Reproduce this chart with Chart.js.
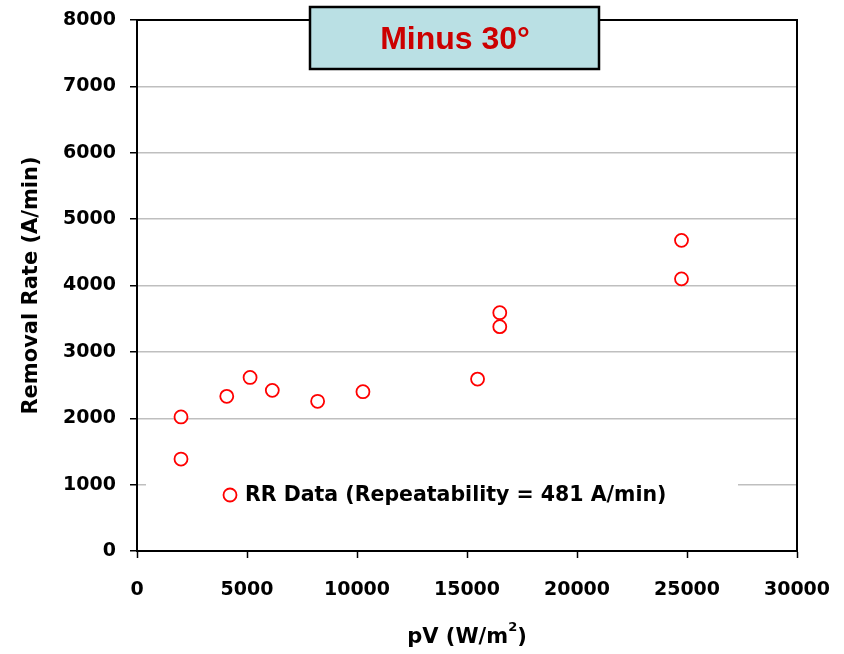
<!DOCTYPE html>
<html lang="en">
<head>
  <meta charset="UTF-8" />
  <title>Minus 30°</title>
  <script src="https://cdn.jsdelivr.net/npm/chart.js"></script>
  <style>
    html, body { margin: 0; padding: 0; background: #fff; }
    #wrap { width: 844px; height: 654px; position: relative; }
  </style>
</head>
<body>
  <div id="wrap">
    <canvas id="grafico"></canvas>
  </div>

  <script>
    // dados
    const pvValues = [2000, 2000, 4080, 5140, 6150, 8210, 10270, 15480, 16490, 16490, 24750, 24750];
    const rrValues = [2020, 1385, 2330, 2615, 2420, 2255, 2400, 2590, 3590, 3380, 4680, 4100];
    const xTicks = [0, 5000, 10000, 15000, 20000, 25000, 30000];
    const yTicks = [0, 1000, 2000, 3000, 4000, 5000, 6000, 7000, 8000];

    const tituloCaixa = 'Minus 30°';
    const legendaTexto = 'RR Data (Repeatability = 481 A/min)';

    const fonteEixo = 'DejaVu Sans';

    // caixa do titulo, legenda, borda e titulo do eixo x
    const extras = {
      id: 'extras',
      afterDraw(chart) {
        const ctx = chart.ctx;
        const area = chart.chartArea;
        ctx.save();

        // borda de cima e da direita
        ctx.strokeStyle = '#000';
        ctx.lineWidth = 2;
        ctx.beginPath();
        ctx.moveTo(area.left, area.top);
        ctx.lineTo(area.right, area.top);
        ctx.lineTo(area.right, area.bottom);
        ctx.stroke();

        // caixa do titulo
        ctx.fillStyle = '#bae0e4';
        ctx.fillRect(310, 7, 289, 62);
        ctx.lineWidth = 2.5;
        ctx.strokeStyle = '#000';
        ctx.strokeRect(310, 7, 289, 62);
        ctx.fillStyle = '#cc0000';
        ctx.font = 'bold 32px "Liberation Sans", Arial, sans-serif';
        ctx.textAlign = 'center';
        ctx.textBaseline = 'middle';
        ctx.fillText(tituloCaixa, 455, 40);

        // legenda
        ctx.fillStyle = '#fff';
        ctx.fillRect(146, 474, 592, 42);
        ctx.beginPath();
        ctx.arc(230, 495, 6.5, 0, Math.PI * 2);
        ctx.strokeStyle = '#ff0000';
        ctx.lineWidth = 1.8;
        ctx.stroke();
        ctx.fillStyle = '#000';
        ctx.font = 'bold 20.5px "' + fonteEixo + '", sans-serif';
        ctx.textAlign = 'left';
        ctx.fillText(legendaTexto, 245, 496);

        // titulo do eixo x com expoente
        const base = 'pV (W/m';
        const fimTxt = ')';
        ctx.font = 'bold 21px "' + fonteEixo + '", sans-serif';
        const w1 = ctx.measureText(base).width;
        const w3 = ctx.measureText(fimTxt).width;
        ctx.font = 'bold 13px "' + fonteEixo + '", sans-serif';
        const w2 = ctx.measureText('2').width;
        let x0 = (area.left + area.right) / 2 - (w1 + w2 + w3) / 2;
        ctx.textBaseline = 'alphabetic';
        ctx.font = 'bold 21px "' + fonteEixo + '", sans-serif';
        ctx.fillText(base, x0, 643);
        ctx.font = 'bold 13px "' + fonteEixo + '", sans-serif';
        ctx.fillText('2', x0 + w1, 631);
        ctx.font = 'bold 21px "' + fonteEixo + '", sans-serif';
        ctx.fillText(fimTxt, x0 + w1 + w2, 643);

        ctx.restore();
      }
    };

    const dados = {
      datasets: [{
        label: legendaTexto,
        data: pvValues.map((v, i) => ({ x: v, y: rrValues[i] })),
        pointStyle: 'circle',
        pointRadius: 6.5,
        pointHoverRadius: 6.5,
        borderWidth: 1.8,
        borderColor: '#ff0000',
        backgroundColor: '#ffffff'
      }]
    };

    const config = {
      type: 'scatter',
      data: dados,
      options: {
        responsive: false,
        animation: false,
        layout: { padding: { top: 20, right: 47, left: 0, bottom: 0 } },
        plugins: {
          legend: { display: false },
          tooltip: { enabled: false }
        },
        scales: {
          x: {
            min: 0,
            max: 30000,
            afterBuildTicks: s => { s.ticks = xTicks.map(v => ({ value: v })); },
            afterFit: s => { s.height = 103; s.paddingLeft = 0; s.paddingRight = 0; },
            border: { color: '#000', width: 2 },
            grid: { drawOnChartArea: false, tickLength: 7, tickColor: '#000', tickWidth: 1.5 },
            ticks: {
              color: '#000',
              padding: 21,
              maxRotation: 0,
              callback: v => String(v),
              font: { family: fonteEixo, size: 19, weight: 'bold' }
            }
          },
          y: {
            min: 0,
            max: 8000,
            afterBuildTicks: s => { s.ticks = yTicks.map(v => ({ value: v })); },
            afterFit: s => { s.width = 137; s.paddingTop = 0; s.paddingBottom = 0; },
            border: { color: '#000', width: 2 },
            grid: {
              color: c => (c.tick && (c.tick.value === 0 || c.tick.value === 8000)) ? 'rgba(0,0,0,0)' : '#bfbfbf',
              lineWidth: 1.5,
              tickLength: 7,
              tickColor: '#000',
              tickWidth: 1.5
            },
            ticks: {
              color: '#000',
              padding: 14,
              callback: v => String(v),
              font: { family: fonteEixo, size: 19, weight: 'bold' }
            },
            title: {
              display: true,
              text: 'Removal Rate (A/min)',
              color: '#000',
              padding: { top: 19, bottom: 0 },
              font: { family: fonteEixo, size: 21, weight: 'bold' }
            }
          }
        }
      },
      plugins: [extras]
    };

    const canvas = document.getElementById('grafico');
    canvas.width = 844;
    canvas.height = 654;
    new Chart(canvas, config);
  </script>
</body>
</html>
